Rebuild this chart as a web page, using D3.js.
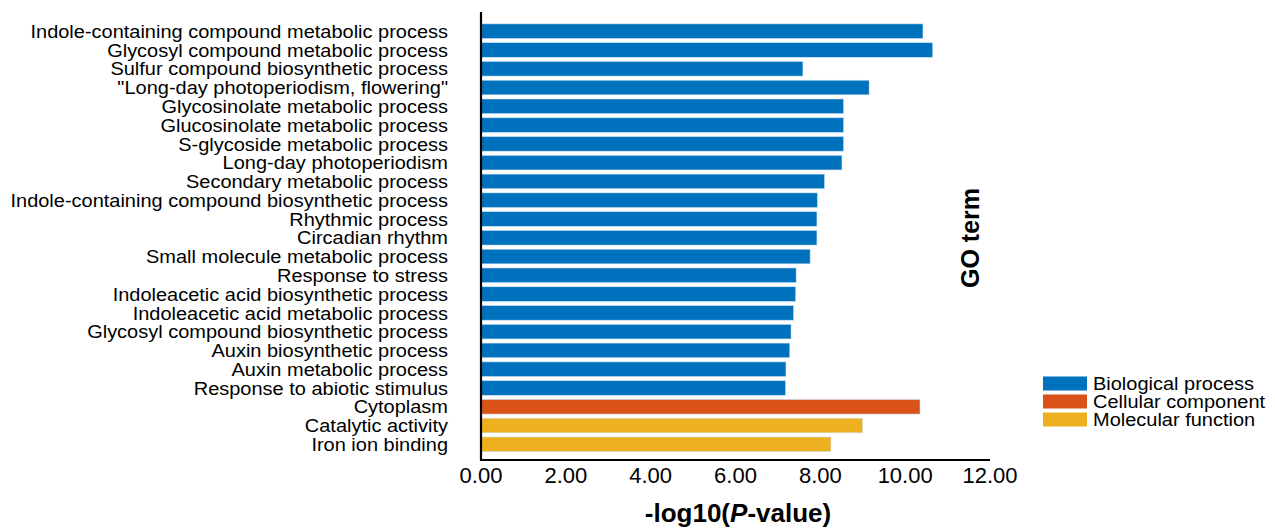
<!DOCTYPE html>
<html>
<head>
<meta charset="utf-8">
<script src="https://cdn.jsdelivr.net/npm/d3@7"></script>
<style>
  body { margin: 0; background: #fff; }
  text { font-family: "Liberation Sans", Arial, sans-serif; fill: #000; }
</style>
</head>
<body>
<svg id="vis" width="1275" height="528"></svg>
<script>
// GO terms, top to bottom
const terms = [
  'Indole-containing compound metabolic process',
  'Glycosyl compound metabolic process',
  'Sulfur compound biosynthetic process',
  '"Long-day photoperiodism, flowering"',
  'Glycosinolate metabolic process',
  'Glucosinolate metabolic process',
  'S-glycoside metabolic process',
  'Long-day photoperiodism',
  'Secondary metabolic process',
  'Indole-containing compound biosynthetic process',
  'Rhythmic process',
  'Circadian rhythm',
  'Small molecule metabolic process',
  'Response to stress',
  'Indoleacetic acid biosynthetic process',
  'Indoleacetic acid metabolic process',
  'Glycosyl compound biosynthetic process',
  'Auxin biosynthetic process',
  'Auxin metabolic process',
  'Response to abiotic stimulus',
  'Cytoplasm',
  'Catalytic activity',
  'Iron ion binding'
];
const values = [10.42, 10.65, 7.59, 9.15, 8.55, 8.55, 8.55, 8.51, 8.10, 7.93, 7.92, 7.92,
  7.76, 7.43, 7.42, 7.37, 7.31, 7.28, 7.19, 7.18, 10.35, 9.0, 8.25];
const groups = ['BP','BP','BP','BP','BP','BP','BP','BP','BP','BP','BP','BP',
  'BP','BP','BP','BP','BP','BP','BP','BP','CC','MF','MF'];
const groupKeys = ['BP', 'CC', 'MF'];
const groupNames = ['Biological process', 'Cellular component', 'Molecular function'];
const xTicks = [0, 2, 4, 6, 8, 10, 12];

const data = terms.map((t, i) => ({ term: t, value: values[i], group: groups[i] }));

const color = d3.scaleOrdinal()
  .domain(groupKeys)
  .range(['#0072BD', '#D95319', '#EDB120']);

const svg = d3.select('#vis');
const x0 = 481, x1 = 990, yTop = 12, yBottom = 460;

const x = d3.scaleLinear().domain([0, 12]).range([x0, x1]);
const y = d3.scaleBand()
  .domain(terms)
  .range([22, 453.5])
  .paddingInner(0.22)
  .paddingOuter(0.1);

// bars
svg.append('g')
  .selectAll('rect')
  .data(data)
  .enter()
    .append('rect')
    .attr('x', x(0))
    .attr('y', d => y(d.term))
    .attr('width', d => x(d.value) - x(0))
    .attr('height', y.bandwidth())
    .attr('fill', d => color(d.group))
    .attr('stroke', '#cfe3f3')
    .attr('stroke-width', 0.6);

// term labels (slightly widened, like the exported figure)
svg.append('g')
  .selectAll('text')
  .data(data)
  .enter()
    .append('text')
    .attr('transform', d => `translate(448,${y(d.term) + y.bandwidth() / 2}) scale(1.08,1)`)
    .attr('dy', '0.36em')
    .attr('text-anchor', 'end')
    .style('font-size', '18.5px')
    .text(d => d.term);

// axes lines
svg.append('line')
  .attr('x1', x0).attr('x2', x0)
  .attr('y1', yTop).attr('y2', yBottom + 1)
  .attr('stroke', '#000').attr('stroke-width', 2.2);
svg.append('line')
  .attr('x1', x0 - 1).attr('x2', x1)
  .attr('y1', yBottom).attr('y2', yBottom)
  .attr('stroke', '#000').attr('stroke-width', 2.2);

// x tick labels
svg.append('g')
  .selectAll('text')
  .data(xTicks)
  .enter()
    .append('text')
    .attr('x', d => x(d))
    .attr('y', 483)
    .attr('text-anchor', 'middle')
    .style('font-size', '22px')
    .text(d => d3.format('.2f')(d));

// x axis title
const title = svg.append('text')
  .attr('x', 738)
  .attr('y', 522)
  .attr('text-anchor', 'middle')
  .style('font-size', '26px')
  .style('font-weight', 'bold');
title.append('tspan').text('-log10(');
title.append('tspan').style('font-style', 'italic').text('P');
title.append('tspan').text('-value)');

// GO term label
svg.append('text')
  .attr('transform', 'translate(979,238) rotate(-90)')
  .attr('text-anchor', 'middle')
  .style('font-size', '25px')
  .style('font-weight', 'bold')
  .text('GO term');

// legend
const legend = svg.append('g')
  .selectAll('g')
  .data(groupKeys)
  .enter()
    .append('g')
    .attr('transform', (d, i) => `translate(1043,${376.5 + i * 18})`);
legend.append('rect')
  .attr('width', 44)
  .attr('height', 14)
  .attr('fill', d => color(d));
legend.append('text')
  .attr('transform', 'translate(50,7) scale(1.08,1)')
  .attr('dy', '0.36em')
  .style('font-size', '18.5px')
  .text((d, i) => groupNames[i]);
</script>
</body>
</html>
